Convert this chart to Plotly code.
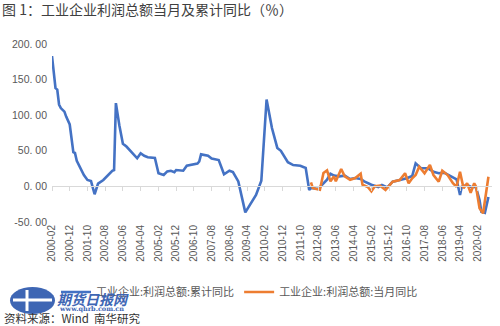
import plotly.graph_objects as go

# 工业企业利润总额：累计同比（%）
blue_months = [
    "2000-02", "2000-04", "2000-05", "2000-06", "2000-07", "2000-09", "2000-10", "2000-12",
    "2001-02", "2001-03", "2001-04", "2001-06", "2001-08", "2001-10", "2001-12",
    "2002-02", "2002-04", "2002-07", "2002-10", "2002-12", "2003-01", "2003-02", "2003-04",
    "2003-06", "2003-08", "2003-10", "2003-12", "2004-02", "2004-04", "2004-06", "2004-08",
    "2004-12", "2005-02", "2005-05", "2005-07", "2005-09", "2005-11", "2005-12", "2006-04",
    "2006-06", "2006-12", "2007-01", "2007-02", "2007-06", "2007-08", "2007-12", "2008-03",
    "2008-06", "2008-08", "2008-11", "2009-03", "2009-06", "2009-09", "2009-12", "2010-03",
    "2010-06", "2010-09", "2010-11", "2011-01", "2011-03", "2011-06", "2011-10", "2011-12",
    "2012-01", "2012-03", "2012-04", "2012-08", "2013-01", "2013-03", "2013-05", "2013-08",
    "2013-11", "2014-02", "2014-05", "2014-08", "2014-10", "2015-02", "2015-06", "2015-08",
    "2015-11", "2016-02", "2016-06", "2016-10", "2017-01", "2017-03", "2017-06", "2017-10",
    "2018-01", "2018-04", "2018-07", "2018-11", "2019-02", "2019-04", "2019-05", "2019-08",
    "2019-10", "2020-01", "2020-03", "2020-04", "2020-06", "2020-08",
]
blue_values = [
    183, 138, 136, 115, 110, 105, 98, 87,
    48, 47, 36, 25, 16, 9, 7.5,
    -11, 4, 9, 17, 22, 23, 117, 86,
    60, 56, 50, 45, 39.5, 46.5, 43, 41,
    40, 18.5, 16, 21, 22, 20, 23, 22,
    29, 32, 35, 45, 43, 39, 37, 17,
    22, 20, 7, -36.5, -24, -12, 8, 122,
    82, 54, 50, 42, 34, 30, 29, 27,
    26, -5, -2.3, -3.6, 9.4, 17.9, 15.1, 14.1,
    15.1, 10.4, 11.8, 10.4, 7.1, 2.4, -0.9, 2,
    -1.3, 6.6, 9, 11.4, 14.6, 32.4, 25.4, 25.4,
    20.6, 18.4, 19.3, 13.6, 10, -12, -0.4, 2,
    -0.4, -1.3, -19, -35.5, -37, -15,
]

# 工业企业利润总额：当月同比（%）
orange_months = [
    "2012-04", "2012-05", "2012-07", "2012-09", "2012-11", "2013-01", "2013-03", "2013-05",
    "2013-06", "2013-09", "2013-11", "2014-02", "2014-05", "2014-08", "2014-09", "2014-12",
    "2015-02", "2015-04", "2015-07", "2015-10", "2016-02", "2016-06", "2016-09", "2016-11",
    "2017-01", "2017-03", "2017-05", "2017-08", "2017-11", "2018-01", "2018-04", "2018-06",
    "2018-09", "2018-12", "2019-02", "2019-04", "2019-06", "2019-08", "2019-10", "2019-12",
    "2020-01", "2020-03", "2020-05", "2020-07", "2020-08",
]
orange_values = [
    5.7, -2.3, -3.6, -4.6, 18.9, 22.4, 7.1, 14.1,
    7.1, 24.4, 14.1, 9.4, 11.8, 17.9, 2.4, -0.9,
    -7, 0.1, 1, -5, 6.6, 9, 18.4, 4.4,
    11.4, 16, 27.7, 18.4, 30, 16, 6.6, 22,
    16, 4.4, -0.4, 20.6, -2.7, 4.4, -8.8, 4.4,
    -0.4, -30.8, -37.8, -2.7, 13.6,
]

tick_months = [
    "2000-02", "2000-12", "2001-10", "2002-08", "2003-06", "2004-04", "2005-02", "2005-12",
    "2006-10", "2007-08", "2008-06", "2009-04", "2010-02", "2010-12", "2011-10", "2012-08",
    "2013-06", "2014-04", "2015-02", "2015-12", "2016-10", "2017-08", "2018-06", "2019-04",
    "2020-02",
]
y_ticks = [-50, 0, 50, 100, 150, 200]

series_names = ["工业企业:利润总额:累计同比", "工业企业:利润总额:当月同比"]
BLUE = "#4472C4"
ORANGE = "#ED7D31"
LABEL = "#595959"
AXIS = "#D9D9D9"
CJK = "Noto Sans CJK SC"
LATIN = "Liberation Sans, Arial, sans-serif"

x_range = ["2000-02-01", "2020-10-01"]

fig = go.Figure()
fig.add_trace(go.Scatter(x=blue_months, y=blue_values, mode="lines", name=series_names[0],
                         line=dict(color=BLUE, width=2.6)))
fig.add_trace(go.Scatter(x=orange_months, y=orange_values, mode="lines", name=series_names[1],
                         line=dict(color=ORANGE, width=2.6)))
# empty trace that carries the axis drawn along the zero level
fig.add_trace(go.Scatter(x=[], y=[], xaxis="x2", showlegend=False, hoverinfo="skip"))

W, H = 500, 326
L, R, T, B = 52, 8, 44, 104
pw, ph = W - L - R, H - T - B


def px_x(p):
    return (p - L) / pw


def px_y(p):
    return (H - B - p) / ph


fig.update_layout(
    width=W, height=H,
    margin=dict(l=L, r=R, t=T, b=B),
    paper_bgcolor="white", plot_bgcolor="white",
    showlegend=True,
    title=dict(text="图 1：工业企业利润总额当月及累计同比（％）",
               x=0.004, xanchor="left", xref="container",
               y=1 - 10 / H, yanchor="middle", yref="container",
               font=dict(family=CJK, size=14, color="#404040")),
    legend=dict(orientation="h", x=px_x(56), xanchor="left", y=px_y(292), yanchor="middle",
                font=dict(family=CJK, size=11, color=LABEL),
                bgcolor="rgba(0,0,0,0)", borderwidth=0),
    xaxis=dict(type="date", range=x_range, tickvals=tick_months,
               ticktext=tick_months, tickangle=-90,
               showgrid=False, zeroline=False, showline=False, ticks="",
               tickfont=dict(family=LATIN, size=10, color=LABEL)),
    xaxis2=dict(type="date", range=x_range, overlaying="x", anchor="free",
                position=(0 - y_ticks[0]) / (y_ticks[-1] - y_ticks[0]),
                tickvals=tick_months, showticklabels=False,
                showgrid=False, zeroline=False, showline=True, linecolor=AXIS, linewidth=1,
                ticks="outside", ticklen=4, tickcolor=AXIS, tickwidth=1),
    yaxis=dict(range=[y_ticks[0], y_ticks[-1]], tickvals=y_ticks,
               ticktext=[f"{v:.2f}".replace(".", ". ") for v in y_ticks],
               showgrid=False, zeroline=False, showline=False, ticks="",
               ticklabelstandoff=4,
               tickfont=dict(family=LATIN, size=10.5, color=LABEL)),
)

# source line
fig.add_annotation(text="资料来源：Wind  南华研究", xref="paper", yref="paper",
                   x=px_x(2), y=px_y(318), xanchor="left", yanchor="middle", showarrow=False,
                   font=dict(family=CJK, size=11.5, color="#333333"))

# 期货日报网 watermark
fig.add_shape(type="circle", xref="paper", yref="paper",
              x0=px_x(10), x1=px_x(55), y0=px_y(314), y1=px_y(287),
              fillcolor="#3E66B4", line=dict(width=0), layer="above")
fig.add_shape(type="line", xref="paper", yref="paper",
              x0=px_x(13), x1=px_x(52), y0=px_y(300), y1=px_y(300),
              line=dict(color="white", width=3), layer="above")
fig.add_shape(type="line", xref="paper", yref="paper",
              x0=px_x(27), x1=px_x(27), y0=px_y(311), y1=px_y(290),
              line=dict(color="white", width=3), layer="above")
fig.add_annotation(text="<b><i>期货日报网</i></b>", xref="paper", yref="paper",
                   x=px_x(55), y=px_y(299), xanchor="left", yanchor="middle", showarrow=False,
                   font=dict(family=CJK, size=14, color="#3E66B4"))
fig.add_annotation(text="<b>www.qhrb.com.cn</b>", xref="paper", yref="paper",
                   x=px_x(57), y=px_y(308.5), xanchor="left", yanchor="middle", showarrow=False,
                   font=dict(family="DejaVu Serif", size=6.5, color="#3E66B4"))

fig.write_html("out.html")
